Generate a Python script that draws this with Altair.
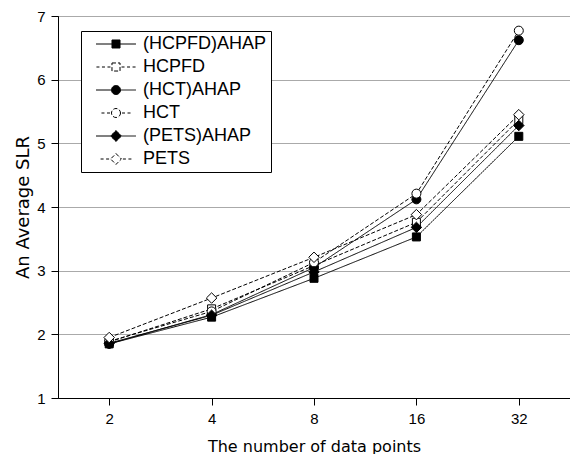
import altair as alt
import pandas as pd

# ---- data ----
x_labels = ["2", "4", "8", "16", "32"]
series_names = ["(HCPFD)AHAP", "HCPFD", "(HCT)AHAP", "HCT", "(PETS)AHAP", "PETS"]
hcpfd_ahap = [1.85, 2.27, 2.88, 3.53, 5.11]
hcpfd = [1.88, 2.40, 3.08, 3.76, 5.37]
hct_ahap = [1.85, 2.31, 3.05, 4.12, 6.62]
hct = [1.89, 2.36, 3.13, 4.21, 6.77]
pets_ahap = [1.86, 2.30, 2.98, 3.68, 5.28]
pets = [1.95, 2.57, 3.21, 3.88, 5.45]

all_values = [hcpfd_ahap, hcpfd, hct_ahap, hct, pets_ahap, pets]
rows = []
for name, vals in zip(series_names, all_values):
    for xl, v in zip(x_labels, vals):
        rows.append({"n": xl, "slr": v, "series": name})
df = pd.DataFrame(rows)

# ---- styles ----
FONT = "Liberation Sans"
WIDE = "DejaVu Sans"
dash_range = [[1, 0], [4, 2], [1, 0], [4, 2], [1, 0], [4, 2]]
marker_kinds = ["square", "square", "circle", "circle", "diamond", "diamond"]
marker_fills = ["black", "white", "black", "white", "black", "white"]
marker_strokes = ["black"] * 6


def marker_path(kind):
    if kind == "square":
        m = 0.67
        return m, f"M{-m},{-m}H{m}V{m}H{-m}Z"
    if kind == "circle":
        m = 0.75
        return m, f"M{m},0A{m},{m},0,1,1,{-m},0A{m},{m},0,1,1,{m},0Z"
    m = 0.9
    return m, f"M0,{-m}L{m},0L0,{m}L{-m},0Z"


def legend_path(dashed, kind):
    L = 3.33
    m, mk = marker_path(kind)
    segs = []
    if dashed:
        d, g = 0.5, 0.42
        pos = -m - 0.25
        while pos - d > -L - 0.01:
            segs.append(f"M{pos - d:.2f},0H{pos:.2f}")
            pos -= d + g
        pos = m + 0.25
        while pos + d < L + 0.01:
            segs.append(f"M{pos:.2f},0H{pos + d:.2f}")
            pos += d + g
    else:
        segs.append(f"M{-L},0H{-m}")
        segs.append(f"M{m},0H{L}")
    return "".join(segs) + mk


legend_paths = [legend_path(i % 2 == 1, k) for i, k in enumerate(marker_kinds)]

x_enc = alt.X(
    "n:N",
    sort=x_labels,
    scale=alt.Scale(type="point", padding=0.5),
    axis=alt.Axis(title="The number of data points", labelAngle=0, grid=False,
                  tickSize=7, labelPadding=6, titlePadding=12,
                  titleFont=WIDE, titleFontSize=16),
)
y_enc = alt.Y(
    "slr:Q",
    scale=alt.Scale(domain=[1, 7], nice=False, zero=False),
    axis=alt.Axis(title="An Average SLR", values=[1, 2, 3, 4, 5, 6, 7], tickSize=7,
                  labelPadding=6, titlePadding=4, grid=True,
                  titleFont=WIDE, titleFontSize=18),
)

lines = alt.Chart(df).mark_line(color="black", strokeWidth=1).encode(
    x=x_enc,
    y=y_enc,
    detail="series:N",
    strokeDash=alt.StrokeDash("series:N",
                              scale=alt.Scale(domain=series_names, range=dash_range),
                              legend=None),
)

fill_cond = alt.condition("indexof(datum.series, 'AHAP') >= 0", alt.value("black"), alt.value("white"))


def marker_layer(names, shape, size):
    return (
        alt.Chart(df)
        .transform_filter(alt.FieldOneOfPredicate(field="series", oneOf=names))
        .mark_point(shape=shape, size=size, filled=True, stroke="black", strokeWidth=1, opacity=1)
        .encode(x=x_enc, y=y_enc, fill=fill_cond)
    )


sq = marker_layer(series_names[0:2], "square", 64)
ci = marker_layer(series_names[2:4], "circle", 81)
di = marker_layer(series_names[4:6], "diamond", 110)

leg = dict(
    title=None,
    orient="none",
    legendX=23,
    legendY=15,
    padding=4,
    strokeColor="black",
    fillColor="white",
    symbolOffset=22,
    labelOffset=18,
    labelFont=FONT,
    labelFontSize=18,
    labelColor="black",
    rowPadding=5,
    symbolSize=144,
    symbolStrokeWidth=1,
    symbolStrokeColor="black",
    symbolOpacity=1,
)

# invisible layer that only carries the legend
legend_layer = alt.Chart(df).mark_point(
    filled=True, strokeWidth=1, size=144, opacity=0
).encode(
    x=x_enc,
    y=y_enc,
    shape=alt.Shape("series:N", scale=alt.Scale(domain=series_names, range=legend_paths),
                    legend=alt.Legend(**leg)),
    fill=alt.Fill("series:N", scale=alt.Scale(domain=series_names, range=marker_fills),
                  legend=alt.Legend(**leg)),
    stroke=alt.Stroke("series:N", scale=alt.Scale(domain=series_names, range=marker_strokes),
                      legend=alt.Legend(**leg)),
)

chart = (
    alt.layer(legend_layer, lines, sq, ci, di)
    .properties(
        width=512,
        height=382,
        padding={"left": 58, "top": 16, "right": 0, "bottom": 56},
        autosize=alt.AutoSizeParams(type="none"),
        background="white",
    )
    .configure_view(stroke="black", strokeWidth=1)
    .configure_axis(
        labelFont=FONT, titleFont=FONT, labelFontSize=15, titleFontSize=16,
        labelColor="black", titleColor="black", titleFontWeight="normal",
        domainColor="black", tickColor="black", gridColor="#aaaaaa", gridWidth=1,
    )
)

chart.save("out.html", embed_options={"renderer": "svg", "actions": False})
